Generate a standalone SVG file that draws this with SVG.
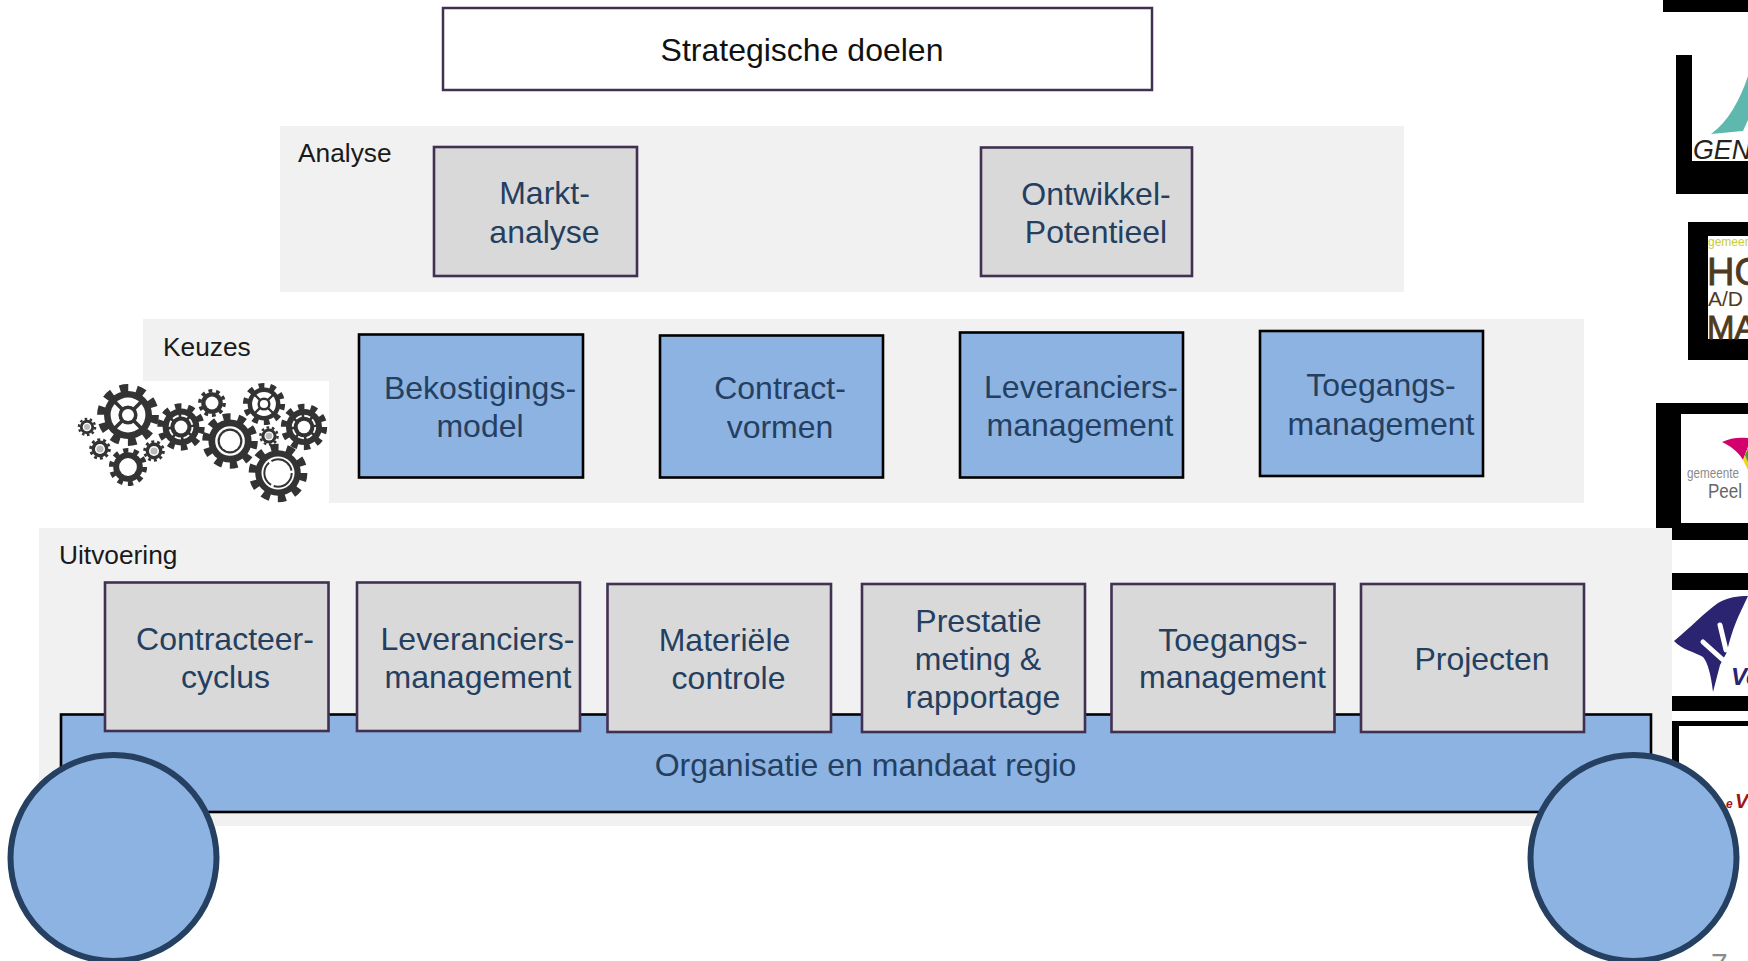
<svg xmlns="http://www.w3.org/2000/svg" xmlns:xlink="http://www.w3.org/1999/xlink" width="1748" height="961" viewBox="0 0 1748 961">
<style>
text{font-family:"Liberation Sans",Arial,sans-serif}
.panel{fill:#f1f1f1}
.lbl{font-size:26.300px;fill:#1a1a1a}
.t{font-size:32px;fill:#243f60;text-anchor:middle}
.grey{fill:#d9d9d9;stroke:#403152;stroke-width:2.600}
.blue{fill:#8db3e2;stroke:#000;stroke-width:2.600}
.wheel{fill:#8db3e2;stroke:#254061;stroke-width:6}
.k{fill:#000}
.w{fill:#fff}
.d{fill:#333}
.h{fill:#fff}
</style>
<defs>
<g id="gear10"><circle r="80" class="d"/><circle r="90" fill="none" stroke="#333" stroke-width="26" pathLength="20" stroke-dasharray="1 1"/></g>
<g id="gearSpoke"><use xlink:href="#gear10" href="#gear10"/><circle r="58" class="h"/><g stroke="#333" stroke-width="12"><path d="M-50 -50L50 50M50 -50L-50 50"/></g><circle r="32" class="d"/><circle r="20" class="h"/></g>
<g id="gearDash"><use xlink:href="#gear10" href="#gear10"/><circle r="50" fill="none" stroke="#fff" stroke-width="8" pathLength="16" stroke-dasharray="1.4 .6"/><circle r="28" class="h"/></g>
<g id="gearPlain"><use xlink:href="#gear10" href="#gear10"/><circle r="48" class="h"/></g>
<g id="gearSmall"><use xlink:href="#gear10" href="#gear10"/><circle r="48" class="h"/><circle r="34" fill="#bbb"/></g>
<g id="gearRing"><use xlink:href="#gear10" href="#gear10"/><circle r="55" class="h"/><circle r="46" class="d"/><circle r="38" class="h"/></g>
<g id="gearRing2"><use xlink:href="#gear10" href="#gear10"/><circle r="58" class="h"/><circle r="48" fill="none" stroke="#333" stroke-width="7" pathLength="3" stroke-dasharray=".9 .1"/></g>
</defs>

<rect width="1748" height="961" fill="#fff"/>

<g id="logos">
<rect class="k" x="1663" y="0" width="85" height="12"/>
<g id="logo-gen">
<rect class="k" x="1676" y="55" width="72" height="139"/>
<rect class="w" x="1692" y="55" width="56" height="106"/>
<path d="M1711 134C1728 122 1740 100 1748 76V120L1743 131Z" fill="#5fb8ad"/>
<text x="1693" y="159" font-size="28" font-style="italic" fill="#222" textLength="58" lengthAdjust="spacingAndGlyphs">GEN</text>
</g>
<g id="logo-hollands">
<rect class="k" x="1688" y="222" width="60" height="138"/>
<rect class="w" x="1708" y="236" width="40" height="103"/>
<text x="1708" y="246" font-size="12" fill="#c6cc3e">gemeen</text>
<text x="1707" y="285" font-size="38" fill="#4f3a1f" stroke="#4f3a1f" stroke-width=".8">HO</text>
<text x="1708" y="306" font-size="21" fill="#4f3a1f">A/D</text>
<text x="1707" y="339" font-size="33" fill="#4f3a1f" stroke="#4f3a1f" stroke-width=".8">MA</text>
</g>
<g id="logo-peel">
<rect class="k" x="1656" y="403" width="92" height="137"/>
<rect class="w" x="1681" y="414" width="67" height="109"/>
<path d="M1722 442C1730 438 1738 437 1748 438V447L1743 460C1738 451 1730 446 1722 442Z" fill="#d3006e"/>
<path d="M1743 460L1748 447V470Z" fill="#e8d820"/>
<path d="M1745 455L1748 449V462Z" fill="#3a9e3a"/>
<text x="1687" y="478" font-size="15" fill="#8a8a8a" textLength="52" lengthAdjust="spacingAndGlyphs">gemeente</text>
<text x="1708" y="498" font-size="20" fill="#666" textLength="34" lengthAdjust="spacingAndGlyphs">Peel</text>
</g>
<g id="logo-v">
<rect class="k" x="1672" y="573" width="76" height="138"/>
<rect class="w" x="1672" y="590" width="76" height="106"/>
<path d="M1674 641C1690 628 1705 612 1718 603C1728 597 1738 596 1748 596L1740 613C1733 628 1729 642 1727 652L1720 665L1713 692C1711 675 1708 663 1703 657C1695 652 1682 650 1674 641Z" fill="#2b2470"/>
<path d="M1703 642L1723 660M1720 625L1726 650" stroke="#fff" stroke-width="5" stroke-linecap="round" fill="none"/>
<text x="1731" y="685" font-size="24" font-style="italic" font-weight="bold" fill="#2b2470">Ve</text>
</g>
<g id="logo-red">
<path class="k" d="M1672 721H1748V726H1679V900H1672Z"/>
<text x="1726" y="808" font-size="12" font-style="italic" font-weight="bold" fill="#a01414">e</text>
<text x="1735" y="808" font-size="20" font-style="italic" font-weight="bold" fill="#a01414">Ve</text>
</g>
</g>

<g id="strategische-doelen">
<rect x="443" y="8" width="709" height="82" fill="#fff" stroke="#403152" stroke-width="2.5"/>
<text x="802" y="61" font-size="32" fill="#111" text-anchor="middle">Strategische doelen</text>
</g>

<g id="analyse">
<rect class="panel" x="280" y="126" width="1124" height="166"/>
<text class="lbl" x="298" y="162">Analyse</text>
</g>
<g id="marktanalyse">
<rect class="grey" x="434" y="147" width="203" height="129"/>
<text class="t" x="544.500" y="204">Markt-</text>
<text class="t" x="544.500" y="243">analyse</text>
</g>
<g id="ontwikkelpotentieel">
<rect class="grey" x="981" y="147.500" width="211" height="128.500"/>
<text class="t" x="1096" y="204.500">Ontwikkel-</text>
<text class="t" x="1096" y="243">Potentieel</text>
</g>

<g id="keuzes">
<rect class="panel" x="143" y="319" width="1441" height="184"/>
<rect class="w" x="143" y="381" width="186" height="122"/>
<text class="lbl" x="163" y="356">Keuzes</text>
</g>
<g id="gears">
<use xlink:href="#gearSpoke" href="#gearSpoke" transform="translate(128 415) scale(.3)"/>
<use xlink:href="#gearDash" href="#gearDash" transform="translate(181 427) scale(.23)"/>
<use xlink:href="#gearSmall" href="#gearSmall" transform="translate(87 427) scale(.09)"/>
<use xlink:href="#gearSmall" href="#gearSmall" transform="translate(100 449) scale(.105)"/>
<use xlink:href="#gearPlain" href="#gearPlain" transform="translate(128 467) scale(.185)"/>
<use xlink:href="#gearSmall" href="#gearSmall" transform="translate(154 451) scale(.105)"/>
<use xlink:href="#gearPlain" href="#gearPlain" transform="translate(212 403) scale(.135)"/>
<use xlink:href="#gearRing" href="#gearRing" transform="translate(230 441) scale(.27)"/>
<use xlink:href="#gearSpoke" href="#gearSpoke" transform="translate(264 404) scale(.205)"/>
<use xlink:href="#gearDash" href="#gearDash" transform="translate(304 427) scale(.225)"/>
<use xlink:href="#gearSmall" href="#gearSmall" transform="translate(269 436) scale(.095)"/>
<use xlink:href="#gearRing2" href="#gearRing2" transform="translate(278 473) scale(.285)"/>
</g>
<g id="bekostigingsmodel">
<rect class="blue" x="359" y="334.500" width="224" height="143"/>
<text class="t" x="480" y="399">Bekostigings-</text>
<text class="t" x="480" y="437">model</text>
</g>
<g id="contractvormen">
<rect class="blue" x="660" y="335.500" width="223" height="142"/>
<text class="t" x="780" y="399">Contract-</text>
<text class="t" x="780" y="438">vormen</text>
</g>
<g id="leveranciersmanagement-keuze">
<rect class="blue" x="960" y="332.500" width="223" height="145"/>
<text class="t" x="1081" y="398">Leveranciers-</text>
<text class="t" x="1080" y="436">management</text>
</g>
<g id="toegangsmanagement-keuze">
<rect class="blue" x="1260" y="331" width="223" height="145"/>
<text class="t" x="1381" y="396">Toegangs-</text>
<text class="t" x="1381" y="435">management</text>
</g>

<g id="uitvoering">
<rect class="panel" x="39" y="528" width="1633" height="298"/>
<text class="lbl" x="59" y="564">Uitvoering</text>
</g>
<g id="organisatie">
<rect class="blue" x="61" y="714.500" width="1590" height="97.500"/>
<text class="t" x="865.500" y="776">Organisatie en mandaat regio</text>
</g>
<g id="contracteercyclus">
<rect class="grey" x="105" y="582.500" width="223.500" height="148.500"/>
<text class="t" x="225" y="650">Contracteer-</text>
<text class="t" x="225.500" y="688">cyclus</text>
</g>
<g id="leveranciersmanagement">
<rect class="grey" x="357" y="582.500" width="223" height="148.500"/>
<text class="t" x="477.500" y="650">Leveranciers-</text>
<text class="t" x="478" y="688">management</text>
</g>
<g id="materiele-controle">
<rect class="grey" x="607.500" y="584" width="223.500" height="148"/>
<text class="t" x="724.500" y="651">Materiële</text>
<text class="t" x="728.500" y="689">controle</text>
</g>
<g id="prestatiemeting">
<rect class="grey" x="862" y="584" width="223" height="148"/>
<text class="t" x="978.500" y="632">Prestatie</text>
<text class="t" x="978" y="670">meting &amp;</text>
<text class="t" x="983" y="708">rapportage</text>
</g>
<g id="toegangsmanagement">
<rect class="grey" x="1111.500" y="584" width="223" height="148"/>
<text class="t" x="1233" y="651">Toegangs-</text>
<text class="t" x="1232.500" y="688">management</text>
</g>
<g id="projecten">
<rect class="grey" x="1361" y="584" width="223" height="148"/>
<text class="t" x="1482" y="670">Projecten</text>
</g>

<g id="wiel-links"><circle class="wheel" cx="113.500" cy="858" r="103"/></g>
<g id="wiel-rechts"><circle class="wheel" cx="1633.500" cy="858" r="103"/></g>
<text id="paginanummer" x="1711" y="974" font-size="30" fill="#8a8a8a">7</text>
</svg>
